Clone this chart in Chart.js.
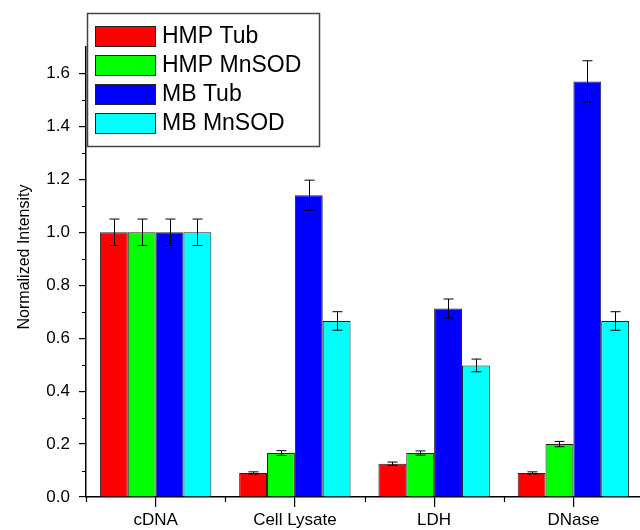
<!DOCTYPE html>
<html>
<head>
<meta charset="utf-8">
<script src="https://cdn.jsdelivr.net/npm/chart.js@4.4.1/dist/chart.umd.min.js"></script>
<style>
  html, body { margin: 0; padding: 0; background: #fff; overflow: hidden; }
  #wrap { position: absolute; left: 0; top: 0; width: 644px; height: 530px; }
</style>
</head>
<body>
<div id="wrap"><canvas id="grafico"></canvas></div>
<script>
// datos
const categorias = ['cDNA', 'Cell Lysate', 'LDH', 'DNase'];
const hmpTub = [1.0, 0.091, 0.126, 0.091];
const hmpTubErr = [0.05, 0.004, 0.006, 0.004];
const hmpMnsod = [1.0, 0.166, 0.166, 0.2];
const hmpMnsodErr = [0.05, 0.009, 0.008, 0.01];
const mbTub = [1.0, 1.14, 0.712, 1.57];
const mbTubErr = [0.05, 0.057, 0.036, 0.078];
const mbMnsod = [1.0, 0.665, 0.497, 0.665];
const mbMnsodErr = [0.05, 0.035, 0.024, 0.035];
const yTicks = [0, 0.2, 0.4, 0.6, 0.8, 1.0, 1.2, 1.4, 1.6];
const yMinor = [0.1, 0.3, 0.5, 0.7, 0.9, 1.1, 1.3, 1.5];

const fuente = "'Liberation Sans', Arial, sans-serif";

// barras de error, ticks menores, titulo Y y leyenda
const extras = {
    id: 'extras',
    afterDatasetsDraw(chart) {
        const ctx = chart.ctx;
        const y = chart.scales.y;
        ctx.save();
        ctx.strokeStyle = '#000';
        ctx.lineWidth = 1;
        chart.data.datasets.forEach((ds, i) => {
            const meta = chart.getDatasetMeta(i);
            meta.data.forEach((bar, j) => {
                const v = ds.data[j], e = ds.errores[j];
                const yTop = y.getPixelForValue(v + e);
                const yBot = y.getPixelForValue(v - e);
                const x = Math.round(bar.x) + 0.5;
                ctx.beginPath();
                ctx.moveTo(x, yTop); ctx.lineTo(x, yBot);
                ctx.moveTo(x - 5, yTop); ctx.lineTo(x + 5, yTop);
                ctx.moveTo(x - 5, yBot); ctx.lineTo(x + 5, yBot);
                ctx.stroke();
            });
        });
        ctx.restore();
    },
    afterDraw(chart) {
        const ctx = chart.ctx;
        const y = chart.scales.y, x = chart.scales.x;
        const area = chart.chartArea;
        ctx.save();
        ctx.strokeStyle = '#000';
        ctx.lineWidth = 1.2;
        ctx.beginPath();
        yMinor.forEach(v => {
            const py = Math.round(y.getPixelForValue(v)) + 0.5;
            ctx.moveTo(area.left - 4, py); ctx.lineTo(area.left, py);
        });
        const ancho = (area.right - area.left) / categorias.length;
        for (let i = 0; i <= categorias.length; i++) {
            const px = Math.round(area.left + i * ancho) + 0.5;
            ctx.moveTo(px, area.bottom); ctx.lineTo(px, area.bottom + 5);
        }
        ctx.stroke();

        // titulo eje Y
        ctx.fillStyle = '#000';
        ctx.font = '16px ' + fuente;
        ctx.translate(25, 257);
        ctx.rotate(-Math.PI / 2);
        ctx.textAlign = 'center';
        ctx.textBaseline = 'middle';
        ctx.fillText('Normalized Intensity', 0, 0);
        ctx.setTransform(1, 0, 0, 1, 0, 0);

        // leyenda
        ctx.fillStyle = '#fff';
        ctx.fillRect(87, 13, 232, 133);
        ctx.strokeStyle = '#444';
        ctx.lineWidth = 1.5;
        ctx.strokeRect(87.5, 13.5, 232, 133);
        ctx.font = '23px ' + fuente;
        ctx.textAlign = 'left';
        ctx.textBaseline = 'middle';
        chart.data.datasets.forEach((ds, i) => {
            const cy = 36 + i * 29;
            ctx.fillStyle = ds.backgroundColor;
            ctx.fillRect(95, cy - 10, 60, 20);
            ctx.strokeStyle = '#222';
            ctx.lineWidth = 1;
            ctx.strokeRect(95.5, cy - 9.5, 60, 20);
            ctx.fillStyle = '#000';
            ctx.fillText(ds.label, 162, cy + 1);
        });
        ctx.restore();
    }
};

const ctxGrafico = document.getElementById('grafico').getContext('2d');

new Chart(ctxGrafico, {
    type: 'bar',
    data: {
        labels: categorias,
        datasets: [
            { label: 'HMP Tub', data: hmpTub, errores: hmpTubErr, backgroundColor: '#ff0000' },
            { label: 'HMP MnSOD', data: hmpMnsod, errores: hmpMnsodErr, backgroundColor: '#00ff00' },
            { label: 'MB Tub', data: mbTub, errores: mbTubErr, backgroundColor: '#0000ff' },
            { label: 'MB MnSOD', data: mbMnsod, errores: mbMnsodErr, backgroundColor: '#00ffff' }
        ]
    },
    options: {
        responsive: true,
        maintainAspectRatio: false,
        animation: false,
        layout: { padding: { top: 47, right: 1, left: 0, bottom: 0 } },
        datasets: {
            bar: {
                borderColor: '#222',
                borderWidth: 1,
                barPercentage: 1.0,
                categoryPercentage: 0.8
            }
        },
        plugins: {
            legend: { display: false },
            tooltip: { enabled: false }
        },
        scales: {
            x: {
                afterFit: s => { s.height = 33; },
                grid: {
                    offset: false,
                    drawOnChartArea: false,
                    tickLength: 10,
                    color: '#000',
                    lineWidth: 1.2
                },
                border: { display: true, color: '#000', width: 1.5 },
                ticks: {
                    color: '#000',
                    padding: 3,
                    font: { family: fuente, size: 17 }
                }
            },
            y: {
                min: 0,
                max: 1.7,
                afterFit: s => { s.width = 86; },
                afterBuildTicks: s => { s.ticks = yTicks.map(v => ({ value: v })); },
                grid: {
                    drawOnChartArea: false,
                    tickLength: 7,
                    color: '#000',
                    lineWidth: 1.2
                },
                border: { display: true, color: '#000', width: 1.5 },
                ticks: {
                    color: '#000',
                    padding: 9,
                    font: { family: fuente, size: 17 },
                    callback: v => Number(v).toFixed(1)
                }
            }
        }
    },
    plugins: [extras]
});
</script>
</body>
</html>
